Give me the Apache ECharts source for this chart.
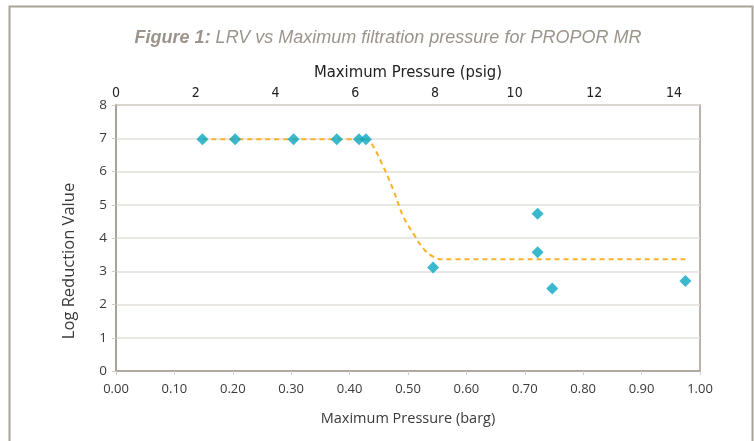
<!DOCTYPE html>
<html lang="en">
<head>
    <meta charset="UTF-8">
    <title>LRV vs pressure</title>
    <script src="https://cdn.jsdelivr.net/npm/echarts@6/dist/echarts.min.js"></script>
    <style>
        html, body { margin: 0; padding: 0; background: #fff; }
        #main { width: 754px; height: 441px; }
    </style>
</head>
<body>
<div id="main"></div>
<script>
    // measured points (barg, LRV)
    var pressureBarg = [0.148, 0.204, 0.304, 0.378, 0.416, 0.428, 0.543, 0.722, 0.722, 0.747, 0.975];
    var lrv = [6.97, 6.97, 6.97, 6.97, 6.97, 6.97, 3.11, 4.73, 3.57, 2.48, 2.71];

    // dashed trend curve
    var trendX = [0.148, 0.428, 0.437, 0.455, 0.475, 0.492, 0.509, 0.526, 0.543, 0.558, 0.975];
    var trendY = [6.97, 6.97, 6.85, 6.25, 5.44, 4.64, 4.14, 3.69, 3.44, 3.36, 3.36];

    // secondary psig scale, as drawn in the figure
    var psigMax = 14.65;

    var grey = '#a49b90';
    var textCol = '#3a3a3a';

    var myChart = echarts.init(document.getElementById('main'));

    var option = {
        animation: false,
        backgroundColor: '#fff',
        title: {
            text: '{b|Figure 1:} LRV vs Maximum filtration pressure for PROPOR MR',
            left: 383, top: 24, textAlign: 'center',
            textStyle: {
                fontFamily: 'Liberation Sans', fontStyle: 'italic', fontWeight: 'normal',
                fontSize: 18, color: '#9c948b',
                rich: { b: { fontFamily: 'Liberation Sans', fontStyle: 'italic', fontWeight: 'bold', fontSize: 18, color: '#9c948b' } }
            }
        },
        graphic: [{
            type: 'rect',
            shape: { x: 9.5, y: 6.5, width: 743, height: 460 },
            style: { fill: 'none', stroke: '#aaa197', lineWidth: 2 }
        }],
        grid: {
            left: 116, right: 54, top: 105, bottom: 70,
            show: true, borderColor: grey, borderWidth: 1.5, backgroundColor: 'transparent'
        },
        xAxis: [{
            type: 'value', position: 'bottom', min: 0, max: 1, interval: 0.1,
            name: 'Maximum Pressure (barg)', nameLocation: 'middle', nameGap: 40,
            nameTextStyle: { fontFamily: 'Open Sans', fontSize: 14.5, color: textCol },
            axisLine: { show: true, lineStyle: { color: grey, width: 1.5 } },
            axisTick: { show: true, length: 4, lineStyle: { color: '#d0ccc6' } },
            axisLabel: { fontFamily: 'Open Sans', fontSize: 13, color: textCol, margin: 12,
                formatter: function (v) { return v.toFixed(2); } },
            splitLine: { show: false }
        }, {
            type: 'value', position: 'top', min: 0, max: psigMax, interval: 2,
            name: 'Maximum Pressure (psig)', nameLocation: 'middle', nameGap: 24,
            nameTextStyle: { fontFamily: 'DejaVu Sans Condensed', fontSize: 16.5, color: '#222' },
            axisLine: { show: false },
            axisTick: { show: false },
            axisLabel: { fontFamily: 'DejaVu Sans Condensed', fontSize: 14, color: '#222', margin: 5, showMaxLabel: false },
            splitLine: { show: false }
        }],
        yAxis: {
            type: 'value', min: 0, max: 8, interval: 1,
            name: 'Log Reduction Value', nameLocation: 'middle', nameGap: 38,
            nameTextStyle: { fontFamily: 'Open Sans', fontSize: 16.5, color: textCol, padding: [0, 46, 0, 0] },
            axisLine: { show: true, lineStyle: { color: grey, width: 1.5 } },
            axisTick: { show: true, length: 4, lineStyle: { color: '#d0ccc6' } },
            axisLabel: { fontFamily: 'Open Sans', fontSize: 13.5, color: textCol, margin: 9 },
            splitLine: { show: true, lineStyle: { color: '#e4e1db', width: 1.5 } }
        },
        series: [{
            type: 'line',
            data: trendX.map(function (x, i) { return [x, trendY[i]]; }),
            smooth: 0.4,
            symbol: 'none',
            lineStyle: { color: '#f8b228', width: 2, type: [5, 4] },
            z: 2
        }, {
            type: 'scatter',
            data: pressureBarg.map(function (x, i) { return [x, lrv[i]]; }),
            symbol: 'diamond',
            symbolSize: [12, 12],
            itemStyle: { color: '#09a8c2' },
            z: 3
        }]
    };

    myChart.setOption(option);
</script>
</body>
</html>
